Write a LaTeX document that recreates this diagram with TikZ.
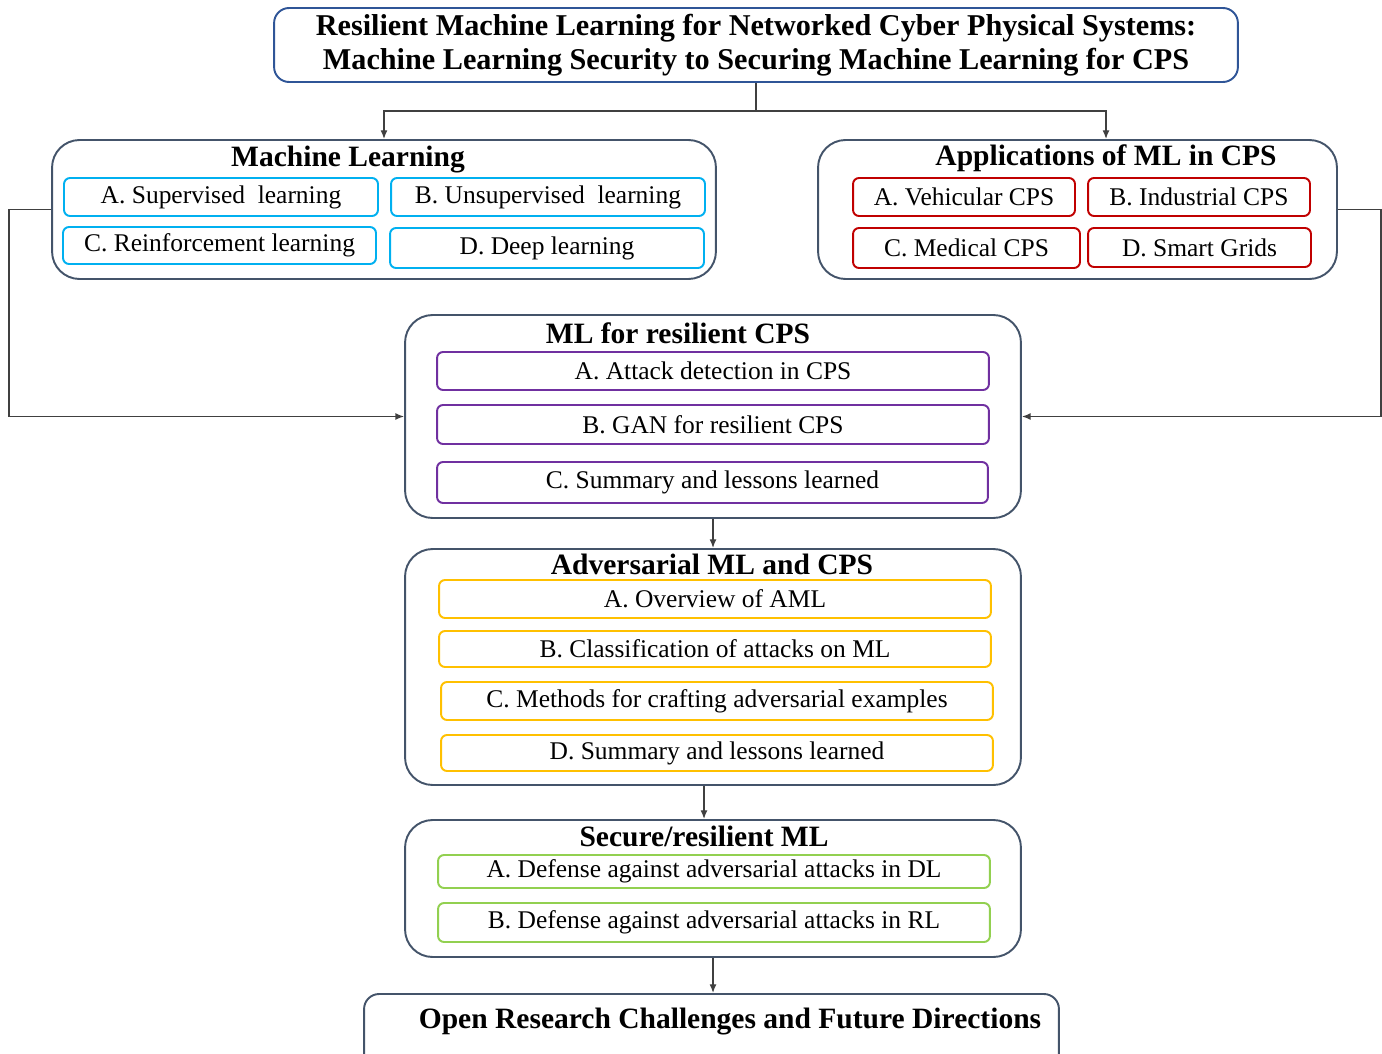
\documentclass[tikz,border=0pt]{standalone}
\usepackage{fontspec}
\setmainfont{Liberation Serif}
\usetikzlibrary{arrows.meta}
\definecolor{titleblue}{HTML}{2F5597}
\definecolor{framegray}{HTML}{44546A}
\definecolor{itemcyan}{HTML}{00B0F0}
\definecolor{itemred}{HTML}{C00000}
\definecolor{itempurple}{HTML}{7030A0}
\definecolor{itemgold}{HTML}{FFC000}
\definecolor{itemgreen}{HTML}{92D050}
\begin{document}
\begin{tikzpicture}[x=0.02cm, y=-0.02cm, >={Latex[length=5pt,width=4pt]},
    frame/.style={draw=framegray, line width=1.1pt, rounded corners=0.55cm, inner sep=0pt},
    head/.style={font=\fontsize{16.8}{19}\selectfont\bfseries, inner sep=0pt},
    item/.style={draw=#1, line width=1.1pt, rounded corners=0.12cm, inner sep=0pt,
        font=\fontsize{14.5}{16}\selectfont},
    link/.style={draw=black!75, line width=0.8pt}]
\useasboundingbox (0,0) rectangle (1382,1054);
\node[frame, draw=titleblue, rounded corners=0.3cm, minimum width=19.28cm, minimum height=1.48cm,
    align=center, font=\fontsize{17.2}{19.3}\selectfont\bfseries] (title) at (756,45)
    {Resilient Machine Learning for Networked Cyber Physical Systems:\\
     Machine Learning Security to Securing Machine Learning for CPS};
\node[frame, minimum width=13.28cm, minimum height=2.78cm] (mlbox) at (384,209.5) {};
\node[head] (mltitle) at (348,160) {Machine Learning};
\node[item=itemcyan, minimum width=6.28cm, minimum height=0.76cm] (mlA) at (221,197) {A. Supervised\ \ learning};
\node[item=itemcyan, minimum width=6.28cm, minimum height=0.76cm] (mlB) at (548,197) {B. Unsupervised\ \ learning};
\node[item=itemcyan, minimum width=6.26cm, minimum height=0.74cm] (mlC) at (219.5,245.5) {C. Reinforcement learning};
\node[item=itemcyan, minimum width=6.28cm, minimum height=0.8cm] (mlD) at (547,248) {D. Deep learning};
\node[frame, minimum width=10.38cm, minimum height=2.78cm] (appbox) at (1077.5,209.5) {};
\node[head] (apptitle) at (1106,158) {Applications of ML in CPS};
\node[item=itemred, minimum width=4.44cm, minimum height=0.76cm] (appA) at (964,197) {A. Vehicular CPS};
\node[item=itemred, minimum width=4.44cm, minimum height=0.76cm] (appB) at (1199,197) {B. Industrial CPS};
\node[item=itemred, minimum width=4.54cm, minimum height=0.8cm] (appC) at (966.5,248) {C. Medical CPS};
\node[item=itemred, minimum width=4.46cm, minimum height=0.78cm] (appD) at (1199.5,247.5) {D. Smart Grids};
\node[frame, minimum width=12.32cm, minimum height=4.06cm] (rsbox) at (713,416.5) {};
\node[head] (rstitle) at (678,333) {ML for resilient CPS};
\node[item=itempurple, minimum width=11.04cm, minimum height=0.76cm] (rsA) at (713,371) {A. Attack detection in CPS};
\node[item=itempurple, minimum width=11.04cm, minimum height=0.78cm] (rsB) at (713,424.5) {B. GAN for resilient CPS};
\node[item=itempurple, minimum width=11.02cm, minimum height=0.82cm] (rsC) at (712.5,482.5) {C. Summary and lessons learned};
\node[frame, minimum width=12.32cm, minimum height=4.72cm] (advbox) at (713,667) {};
\node[head] (advtitle) at (712,564) {Adversarial ML and CPS};
\node[item=itemgold, minimum width=11.04cm, minimum height=0.76cm] (advA) at (715,599) {A. Overview of AML};
\node[item=itemgold, minimum width=11.04cm, minimum height=0.72cm] (advB) at (715,649) {B. Classification of attacks on ML};
\node[item=itemgold, minimum width=11.04cm, minimum height=0.76cm] (advC) at (717,701) {C. Methods for crafting adversarial examples};
\node[item=itemgold, minimum width=11.04cm, minimum height=0.72cm] (advD) at (717,753) {D. Summary and lessons learned};
\node[frame, minimum width=12.32cm, minimum height=2.74cm] (secbox) at (713,888.5) {};
\node[head] (sectitle) at (704,836) {Secure/resilient ML};
\node[item=itemgreen, minimum width=11.04cm, minimum height=0.66cm] (secA) at (714,871.5) {A. Defense against adversarial attacks in DL};
\node[item=itemgreen, minimum width=11.04cm, minimum height=0.78cm] (secB) at (714,922.5) {B. Defense against adversarial attacks in RL};
\node[frame, rounded corners=0.3cm, minimum width=13.9cm, minimum height=1.8cm] (openbox) at (711.5,1039) {};
\node[head] (opentitle) at (730,1022) {Open Research Challenges and Future Directions};
\coordinate (split) at (756,111);
\draw[link] (title.south) -- (split);
\draw[link,->] (split) -| (mlbox.north);
\draw[link,->] (split) -| (appbox.north -| apptitle);
\draw[link,->] (mlbox.west) -- ++(-42,0) |- (rsbox.west);
\draw[link,->] (appbox.east) -- ++(43,0) |- (rsbox.east);
\draw[link,->] (rsbox.south) -- (advbox.north);
\draw[link,->] (advbox.south -| sectitle) -- (secbox.north -| sectitle);
\draw[link,->] (secbox.south) -- (secbox.south |- openbox.north);
\end{tikzpicture}
\end{document}
